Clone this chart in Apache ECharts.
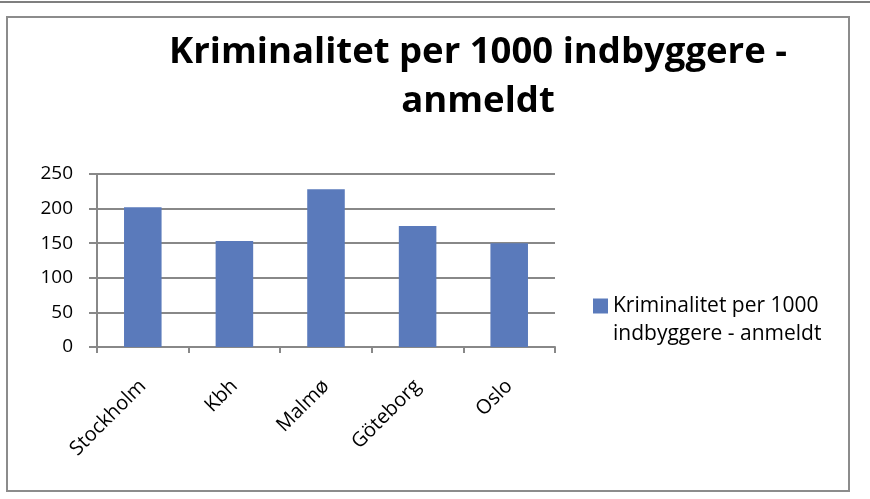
<!DOCTYPE html>
<html><head><meta charset="utf-8">
<script src="https://cdn.jsdelivr.net/npm/echarts@6/dist/echarts.min.js"></script>
<style>html,body{margin:0;padding:0;background:#fff}#c{width:870px;height:499px}</style>
</head><body><div id="c"></div>
<script>
const categories = ['Stockholm', 'Kbh', 'Malmø', 'Göteborg', 'Oslo'];
const values = [202, 153, 228, 175, 150];
const seriesName = 'Kriminalitet per 1000 indbyggere - anmeldt';
const titleText = 'Kriminalitet per 1000 indbyggere -\nanmeldt';
const legendLines = ['Kriminalitet per 1000', 'indbyggere - anmeldt'];
const yTicks = [0, 50, 100, 150, 200, 250];

const FONT = '"Open Sans", "Noto Sans", sans-serif';
const chart = echarts.init(document.getElementById('c'), null, {renderer: 'canvas'});
chart.setOption({
  animation: false,
  backgroundColor: '#fff',
  graphic: [
    {type: 'line', shape: {x1: 0, y1: 2, x2: 870, y2: 2}, style: {stroke: '#555', lineWidth: 1.5}},
    {type: 'rect', shape: {x: 7, y: 17, width: 842, height: 474}, style: {fill: 'none', stroke: '#8c8c8c', lineWidth: 2}}
  ],
  title: {
    text: titleText,
    left: 473, top: 23, textAlign: 'center',
    textStyle: {fontFamily: FONT, fontWeight: 'bold', fontSize: 36.5, lineHeight: 49, color: '#000'}
  },
  legend: {
    data: [seriesName],
    left: 588, top: 259,
    orient: 'vertical',
    itemWidth: 15, itemHeight: 15, itemGap: 6,
    icon: 'rect',
    formatter: () => ' \n' + legendLines.join('\n'),
    textStyle: {fontFamily: FONT, fontSize: 21, color: '#000', lineHeight: 28}
  },
  grid: {left: 97, right: 315, top: 174, bottom: 152, containLabel: false},
  xAxis: {
    type: 'category', data: categories,
    axisLine: {lineStyle: {color: '#888', width: 2}},
    axisTick: {show: true, alignWithLabel: false, length: 6, lineStyle: {color: '#888', width: 2}},
    axisLabel: {rotate: 45, margin: 36, fontFamily: FONT, fontSize: 20, color: '#000'}
  },
  yAxis: {
    type: 'value', min: yTicks[0], max: yTicks[yTicks.length - 1], interval: 50,
    axisLine: {show: true, lineStyle: {color: '#888', width: 2}},
    axisTick: {show: true, length: 8, lineStyle: {color: '#888', width: 2}},
    axisLabel: {margin: 24, fontFamily: FONT, fontSize: 19, color: '#000'},
    splitLine: {lineStyle: {color: '#888', width: 2}}
  },
  series: [{
    name: seriesName, type: 'bar', data: values,
    barWidth: '41%',
    itemStyle: {color: '#5a7abb'}
  }]
});
</script></body></html>
